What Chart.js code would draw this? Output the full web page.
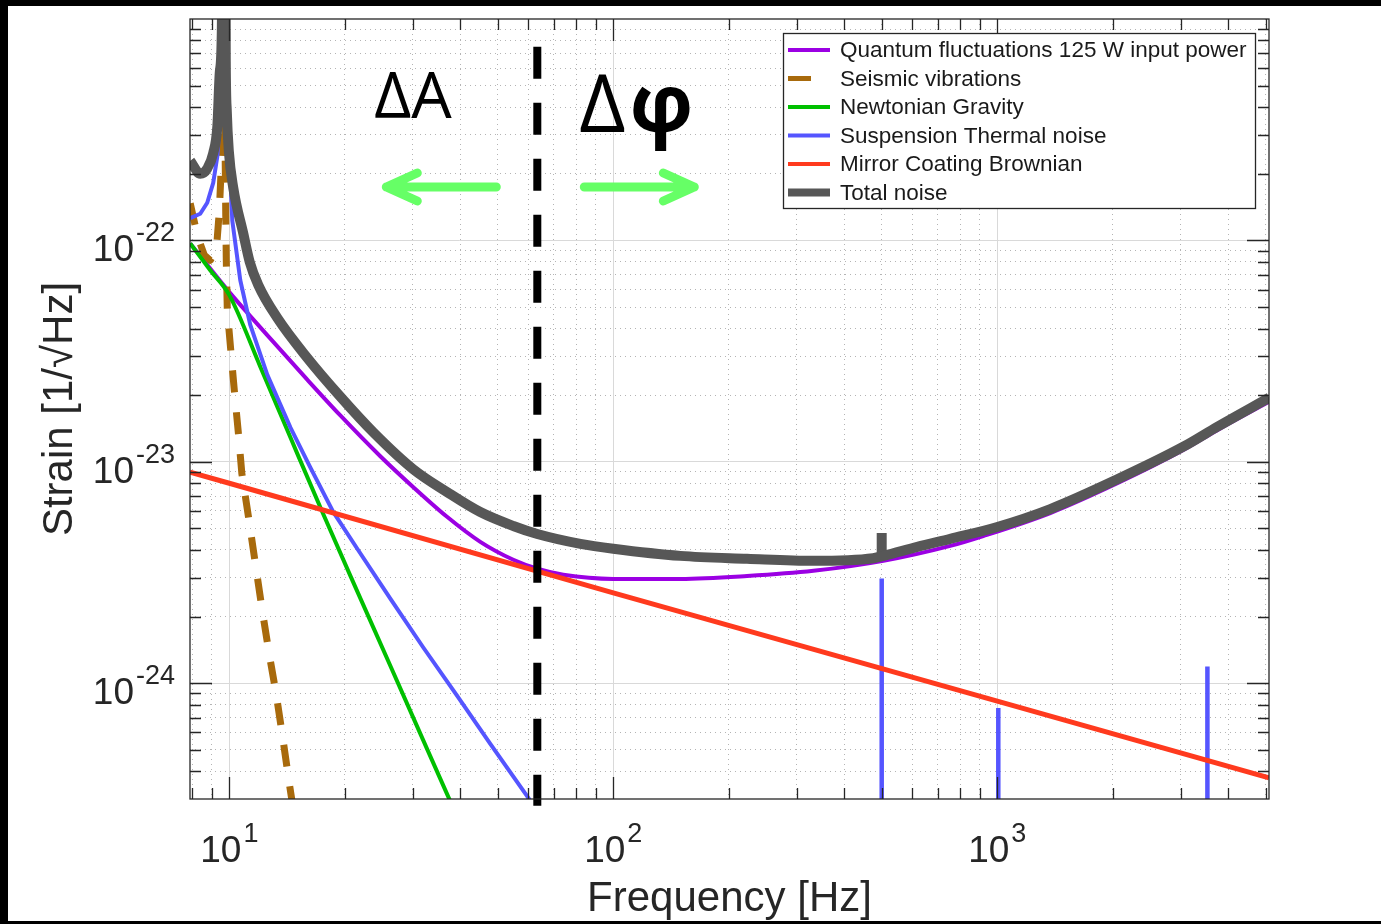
<!DOCTYPE html>
<html>
<head>
<meta charset="utf-8">
<title>Noise budget</title>
<script src="https://cdn.jsdelivr.net/npm/chart.js@4.4.1/dist/chart.umd.min.js"></script>
<style>
    html, body { margin: 0; padding: 0; background: #000; overflow: hidden; }
    canvas { display: block; }
</style>
</head>
<body>
<canvas id="noise" width="1381" height="924"></canvas>
<script>
(function () {
    'use strict';

    // axis limits
    var freqMin = 7.9, freqMax = 5100;
    var strainMin = 3.07e-25, strainMax = 1e-21;

    // decade tick labels (10^n)
    var freqDecades = [10, 100, 1000];
    var freqDecadeExp = ['1', '2', '3'];
    var strainDecades = [1e-24, 1e-23, 1e-22];
    var strainDecadeExp = ['-24', '-23', '-22'];

    // Quantum fluctuations 125 W input power
    var quantumFreq = [7.91, 10.0, 11.34, 13.02, 15.96, 19.46, 24.73, 30.15, 36.96, 45.04, 54.9, 63.4, 74.1, 100, 149.5, 223, 332, 505, 754, 919, 1374, 2054, 3051, 3741, 5109];
    var quantumStrain = [9.69e-23, 5.84e-23, 4.55e-23, 3.48e-23, 2.35e-23, 1.62e-23, 1.06e-23, 7.68e-24, 5.63e-24, 4.35e-24, 3.61e-24, 3.29e-24, 3.09e-24, 2.96e-24, 2.96e-24, 3.05e-24, 3.22e-24, 3.57e-24, 4.17e-24, 4.62e-24, 5.87e-24, 8.0e-24, 1.13e-23, 1.39e-23, 1.87e-23];

    // Seismic vibrations
    var seismicFreq = [7.91, 8.26, 8.61, 8.92, 9.25, 9.42, 9.53, 9.62, 9.68, 9.73, 9.76, 9.79, 9.82, 9.88, 10.06, 10.30, 10.55, 10.78, 11.24, 11.65, 12.15, 12.67, 13.26, 13.78, 14.33, 14.68];
    var seismicStrain = [1.47e-22, 1.05e-22, 8.57e-23, 8.13e-23, 9.02e-23, 1.36e-22, 2.17e-22, 4.25e-22, 5e-21, 4.25e-22, 2.17e-22, 1.29e-22, 8.13e-23, 4.84e-23, 3.37e-23, 2.12e-23, 1.37e-23, 8.87e-24, 5.52e-24, 3.61e-24, 2.2e-24, 1.39e-24, 8.83e-25, 5.66e-25, 3.52e-25, 2.69e-25];

    // Newtonian Gravity
    var newtonFreq = [7.91, 8.92, 10.0, 12.04, 14.42, 17.47, 21.54, 26.26, 32.0, 36.96, 39.96];
    var newtonStrain = [9.69e-23, 7.33e-23, 5.66e-23, 2.69e-23, 1.29e-23, 5.93e-24, 2.6e-24, 1.2e-24, 5.52e-25, 3.14e-25, 2.32e-25];

    // Suspension Thermal noise
    var suspFreq = [7.91, 8.40, 8.76, 9.08, 9.31, 9.48, 9.59, 9.68, 9.76, 9.94, 10.18, 10.68, 11.34, 12.56, 14.42, 16.25, 18.66, 21.54, 26.26, 32.0, 39.26, 47.83, 59.7, 66.5];
    var suspStrain = [1.26e-22, 1.32e-22, 1.48e-22, 1.82e-22, 2.41e-22, 3.84e-22, 7.9e-22, 1e-19, 7.9e-22, 3.12e-22, 1.23e-22, 6.61e-23, 4.15e-23, 2.47e-23, 1.43e-23, 9.44e-24, 5.93e-24, 4.05e-24, 2.41e-24, 1.45e-24, 8.75e-25, 5.32e-25, 3.08e-25, 2.35e-25];
    // violin mode lines
    var violinFreq = [500, 1006, 3525];
    var violinPeak = [2.97e-24, 7.73e-25, 1.19e-24];

    // Mirror Coating Brownian
    var coatingFreq = [7.9, 10, 100, 1000, 5100];
    var coatingStrain = [8.97e-24, 8.0e-24, 2.56e-24, 8.3e-25, 3.74e-25];

    // Total noise
    var totalFreq = [7.91, 8.40, 8.76, 9.08, 9.31, 9.45, 9.56, 9.68, 9.79, 9.85, 9.97, 10.24, 10.88, 11.3, 11.9, 13.34, 15.96, 19.46, 23.71, 30.15, 36.96, 45.04, 54.9, 63.4, 82.1, 100, 149.5, 223, 332, 475, 506, 619, 754, 1000, 1374, 2054, 3051, 3741, 5109];
    var totalStrain = [2.29e-22, 2.0e-22, 2.11e-22, 2.48e-22, 3.29e-22, 5.81e-22, 8.8e-22, 1e-19, 6.44e-22, 3.84e-22, 2.54e-22, 1.73e-22, 1.07e-22, 8.0e-23, 6.28e-23, 4.46e-23, 2.95e-23, 1.97e-23, 1.36e-23, 9.25e-24, 7.29e-24, 5.93e-24, 5.13e-24, 4.72e-24, 4.26e-24, 4.05e-24, 3.76e-24, 3.65e-24, 3.57e-24, 3.67e-24, 3.76e-24, 4.13e-24, 4.49e-24, 5.08e-24, 6.12e-24, 8.34e-24, 1.17e-23, 1.44e-23, 1.95e-23];
    var totalSpikeFreq = 500;
    var totalSpikeStrain = [3.7e-24, 4.77e-24];

    // amplitude / phase split
    var splitFreq = 63.4;
    var splitStrain = [7.5e-22, 2.8e-25];

    var belowAxis = 1e-26;

    function pts(fs, hs) {
        return fs.map(function (f, i) { return {x: f, y: hs[i]}; });
    }

    function spikes(fs, hs) {
        var out = [];
        for (var i = 0; i < fs.length; i++) {
            out.push({x: fs[i], y: belowAxis});
            out.push({x: fs[i], y: hs[i]});
            out.push({x: fs[i], y: null});
        }
        return out;
    }

    function isDecade(v) {
        var l = Math.log10(v);
        return Math.abs(l - Math.round(l)) < 1e-9;
    }

    function logTicks(lo, hi) {
        var out = [];
        for (var e = Math.floor(Math.log10(lo)); e <= Math.ceil(Math.log10(hi)); e++) {
            for (var m = 1; m < 10; m++) {
                var v = m * Math.pow(10, e);
                if (v > lo * 1.0001 && v < hi * 0.9999) {
                    out.push(v);
                }
            }
        }
        return out;
    }

    var xGrid = logTicks(freqMin, freqMax);
    var yGrid = logTicks(strainMin, strainMax);

    function line(label, data, color, width, order, extra) {
        var ds = {
            label: label,
            data: data,
            showLine: true,
            borderColor: color,
            backgroundColor: color,
            borderWidth: width,
            pointRadius: 0,
            pointHoverRadius: 0,
            tension: 0,
            spanGaps: false,
            borderJoinStyle: 'round',
            clip: 0,
            order: order
        };
        for (var k in extra) {
            ds[k] = extra[k];
        }
        return ds;
    }

    var TEXT = '#262626';
    var SANS = '"Liberation Sans", Arial, Helvetica, sans-serif';
    var ANNO = '"Open Sans", "Noto Sans", "DejaVu Sans", sans-serif';

    var datasets = [
        line('Quantum fluctuations 125 W input power', pts(quantumFreq, quantumStrain), '#9b00e3', 4, 7,
            {inLegend: true, cubicInterpolationMode: 'monotone'}),
        line('Seismic vibrations', pts(seismicFreq, seismicStrain), '#a86a0c', 7, 6,
            {inLegend: true, borderDash: [22, 20], sampleLen: 23, sampleWidth: 5}),
        line('Newtonian Gravity', pts(newtonFreq, newtonStrain), '#00c000', 4, 5,
            {inLegend: true, cubicInterpolationMode: 'monotone'}),
        line('Suspension Thermal noise', pts(suspFreq, suspStrain), '#5555ff', 4, 4,
            {inLegend: true}),
        line('violin modes', spikes(violinFreq, violinPeak), '#5555ff', 4.5, 4, {}),
        line('Mirror Coating Brownian', pts(coatingFreq, coatingStrain), '#ff3a1e', 5, 3,
            {inLegend: true}),
        line('Total noise', pts(totalFreq, totalStrain), '#575757', 10, 2,
            {inLegend: true, cubicInterpolationMode: 'monotone', sampleWidth: 8}),
        line('total spike', pts([totalSpikeFreq, totalSpikeFreq], totalSpikeStrain), '#575757', 10, 2,
            {borderCapStyle: 'butt'}),
        line('split', pts([splitFreq, splitFreq], splitStrain), '#000000', 8, 1,
            {borderDash: [32, 24], clip: {left: 0, top: 0, right: 0, bottom: 12}})
    ];

    function drawArrow(c, x0, x1, y) {
        var dir = x1 > x0 ? 1 : -1;
        c.beginPath();
        c.moveTo(x0, y);
        c.lineTo(x1, y);
        c.moveTo(x1 - dir * 31, y - 14);
        c.lineTo(x1, y);
        c.lineTo(x1 - dir * 31, y + 14);
        c.stroke();
    }

    function drawPower(c, exp, x, baseY, align) {
        c.font = '37px ' + SANS;
        var wb = c.measureText('10').width;
        c.font = '27px ' + SANS;
        var we = c.measureText(exp).width;
        var total = wb + 2 + we;
        var left = align === 'center' ? x - total / 2 : x - total;
        c.textAlign = 'left';
        c.textBaseline = 'alphabetic';
        c.font = '37px ' + SANS;
        c.fillText('10', left, baseY);
        c.font = '27px ' + SANS;
        c.fillText(exp, left + wb + 2, baseY - 20);
    }

    var framePlugin = {
        id: 'frame',
        beforeDraw: function (chart) {
            var c = chart.ctx;
            c.save();
            c.fillStyle = '#000';
            c.fillRect(0, 0, chart.width, chart.height);
            c.fillStyle = '#fff';
            c.fillRect(8, 6, chart.width - 8, 915);
            c.restore();
        },
        afterDraw: function (chart) {
            var c = chart.ctx, a = chart.chartArea;
            var xs = chart.scales.x, ys = chart.scales.y;
            c.save();

            // box and inward ticks
            c.strokeStyle = TEXT;
            c.lineWidth = 1.3;
            c.beginPath();
            xs.ticks.forEach(function (t) {
                var p = Math.round(xs.getPixelForValue(t.value)) + 0.5;
                var len = isDecade(t.value) ? 22 : 11;
                c.moveTo(p, a.bottom); c.lineTo(p, a.bottom - len);
                c.moveTo(p, a.top); c.lineTo(p, a.top + len);
            });
            ys.ticks.forEach(function (t) {
                var p = Math.round(ys.getPixelForValue(t.value)) + 0.5;
                var len = isDecade(t.value) ? 22 : 11;
                c.moveTo(a.left, p); c.lineTo(a.left + len, p);
                c.moveTo(a.right, p); c.lineTo(a.right - len, p);
            });
            c.stroke();
            c.strokeRect(a.left, a.top, a.right - a.left, a.bottom - a.top);

            // tick labels
            c.fillStyle = TEXT;
            freqDecades.forEach(function (v, i) {
                drawPower(c, freqDecadeExp[i], xs.getPixelForValue(v), 862, 'center');
            });
            strainDecades.forEach(function (v, i) {
                drawPower(c, strainDecadeExp[i], a.left - 15, ys.getPixelForValue(v) + 21, 'right');
            });

            // axis titles
            c.font = '42px ' + SANS;
            c.textAlign = 'center';
            c.textBaseline = 'alphabetic';
            c.fillText('Frequency [Hz]', (a.left + a.right) / 2, 911);
            c.save();
            c.translate(72, (a.top + a.bottom) / 2);
            c.rotate(-Math.PI / 2);
            c.fillText('Strain [1/\u221AHz]', 0, 0);
            c.restore();

            // legend
            var lx = 783.5, ly = 33.5, lw = 472, lh = 175;
            c.fillStyle = '#fff';
            c.fillRect(lx, ly, lw, lh);
            c.strokeStyle = TEXT;
            c.lineWidth = 1.3;
            c.strokeRect(lx, ly, lw, lh);
            var row = 0;
            c.font = '22.5px ' + SANS;
            c.textAlign = 'left';
            c.textBaseline = 'middle';
            chart.data.datasets.forEach(function (ds) {
                if (!ds.inLegend) {
                    return;
                }
                var y = 50 + row * 28.5;
                c.strokeStyle = ds.borderColor;
                c.lineWidth = ds.sampleWidth || 4;
                c.setLineDash([]);
                c.lineCap = 'butt';
                c.beginPath();
                c.moveTo(788, y);
                c.lineTo(788 + (ds.sampleLen || 42), y);
                c.stroke();
                c.fillStyle = '#1a1a1a';
                c.fillText(ds.label, 840, y + 1);
                row++;
            });

            // amplitude / phase annotations
            var sx = xs.getPixelForValue(splitFreq);
            c.fillStyle = '#000';
            c.textBaseline = 'alphabetic';
            c.textAlign = 'left';
            c.font = '64px ' + ANNO;
            c.fillText('\u0394A', sx - 163, 118);
            c.font = '80px ' + ANNO;
            c.fillText('\u0394', sx + 42, 132);
            var dw = c.measureText('\u0394').width;
            c.font = 'bold 80px ' + ANNO;
            c.fillText('\u03C6', sx + 42 + dw + 4, 132);

            c.strokeStyle = '#66ff66';
            c.lineWidth = 9;
            c.lineCap = 'round';
            c.lineJoin = 'round';
            drawArrow(c, sx - 41, sx - 151, 187);
            drawArrow(c, sx + 47, sx + 157, 187);

            c.restore();
        }
    };

    function gridColor(ctx) {
        return ctx.tick && isDecade(ctx.tick.value) ? '#d9d9d9' : '#b4b4b4';
    }

    function gridDash(ctx) {
        return ctx.tick && isDecade(ctx.tick.value) ? [] : [1, 4];
    }

    Chart.defaults.font.family = SANS;

    new Chart(document.getElementById('noise').getContext('2d'), {
        type: 'scatter',
        data: {datasets: datasets},
        options: {
            responsive: false,
            animation: false,
            devicePixelRatio: 1,
            events: [],
            layout: {padding: {left: 190, top: 19, right: 112, bottom: 125}},
            plugins: {
                legend: {display: false},
                tooltip: {enabled: false}
            },
            scales: {
                x: {
                    type: 'logarithmic',
                    min: freqMin,
                    max: freqMax,
                    afterBuildTicks: function (scale) {
                        scale.ticks = xGrid.map(function (v) { return {value: v, major: isDecade(v)}; });
                    },
                    afterFit: function (scale) { scale.height = 0; },
                    ticks: {display: false},
                    grid: {color: gridColor, lineWidth: 1, drawTicks: false},
                    border: {display: false, dash: gridDash}
                },
                y: {
                    type: 'logarithmic',
                    min: strainMin,
                    max: strainMax,
                    afterBuildTicks: function (scale) {
                        scale.ticks = yGrid.map(function (v) { return {value: v, major: isDecade(v)}; });
                    },
                    afterFit: function (scale) { scale.width = 0; },
                    ticks: {display: false},
                    grid: {color: gridColor, lineWidth: 1, drawTicks: false},
                    border: {display: false, dash: gridDash}
                }
            }
        },
        plugins: [framePlugin]
    });
})();
</script>
</body>
</html>
